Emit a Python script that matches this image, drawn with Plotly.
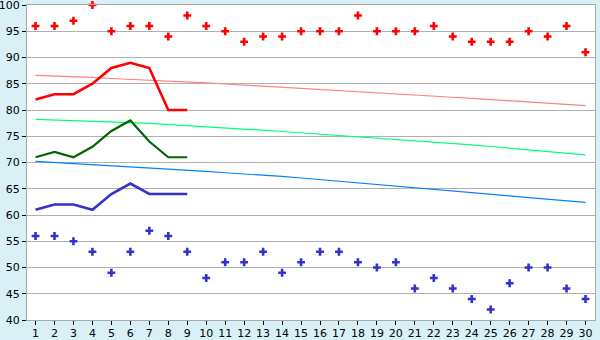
import plotly.graph_objects as go

days = list(range(1, 31))

high_pts = [96, 96, 97, 100, 95, 96, 96, 94, 98, 96, 95, 93, 94, 94, 95,
            95, 95, 98, 95, 95, 95, 96, 94, 93, 93, 93, 95, 94, 96, 91]
low_pts = [56, 56, 55, 53, 49, 53, 57, 56, 53, 48, 51, 51, 53, 49, 51,
           53, 53, 51, 50, 51, 46, 48, 46, 44, 42, 47, 50, 50, 46, 44]

days9 = days[:9]
red_line = [82, 83, 83, 85, 88, 89, 88, 80, 80]
green_line = [71, 72, 71, 73, 76, 78, 74, 71, 71]
blue_line = [61, 62, 62, 61, 64, 66, 64, 64, 64]

pink_trend = [86.6, 86.5, 86.35, 86.2, 86.0, 85.85, 85.65, 85.5, 85.3, 85.15,
              84.95, 84.75, 84.55, 84.35, 84.15, 83.95, 83.75, 83.55, 83.3, 83.1,
              82.88, 82.65, 82.43, 82.2, 81.98, 81.75, 81.53, 81.3, 81.08, 80.85]
green_trend = [78.2, 78.1, 77.95, 77.85, 77.75, 77.6, 77.45, 77.25, 77.05, 76.85,
               76.6, 76.35, 76.15, 75.9, 75.65, 75.4, 75.15, 74.9, 74.7, 74.45,
               74.2, 73.95, 73.65, 73.35, 73.05, 72.75, 72.45, 72.1, 71.8, 71.45]
blue_trend = [70.2, 70.0, 69.8, 69.6, 69.4, 69.15, 68.9, 68.7, 68.5, 68.3,
              68.05, 67.85, 67.6, 67.35, 67.05, 66.75, 66.45, 66.15, 65.85, 65.55,
              65.25, 64.95, 64.6, 64.3, 63.95, 63.65, 63.3, 63.0, 62.7, 62.4]

y_ticks = list(range(40, 101, 5))

fig = go.Figure()

fig.add_trace(go.Scatter(x=days, y=pink_trend, mode="lines",
                         line=dict(color="#ff8080", width=1.2)))
fig.add_trace(go.Scatter(x=days, y=green_trend, mode="lines",
                         line=dict(color="#00ff80", width=1.2)))
fig.add_trace(go.Scatter(x=days, y=blue_trend, mode="lines",
                         line=dict(color="#0080ff", width=1.2)))

fig.add_trace(go.Scatter(x=days9, y=red_line, mode="lines",
                         line=dict(color="#ff0000", width=2.6)))
fig.add_trace(go.Scatter(x=days9, y=green_line, mode="lines",
                         line=dict(color="#006600", width=2.2)))
fig.add_trace(go.Scatter(x=days9, y=blue_line, mode="lines",
                         line=dict(color="#3333cc", width=2.6)))

fig.add_trace(go.Scatter(x=days, y=high_pts, mode="markers", cliponaxis=False,
                         marker=dict(symbol="cross", size=6.5, color="#ff0000",
                                     line=dict(width=0))))
fig.add_trace(go.Scatter(x=days, y=low_pts, mode="markers", cliponaxis=False,
                         marker=dict(symbol="cross", size=6.5, color="#3333cc",
                                     line=dict(width=0))))

fig.update_layout(
    width=600, height=340,
    margin=dict(l=27, r=5, t=5, b=20, autoexpand=False),
    paper_bgcolor="#d9f0f7",
    plot_bgcolor="#ffffff",
    showlegend=False,
    hovermode=False,
    font=dict(family="DejaVu Sans", size=11, color="#000000"),
)
fig.update_xaxes(
    range=[0.55, 30.5], tickmode="array", tickvals=days,
    ticktext=[str(d) for d in days],
    showgrid=False, zeroline=False, automargin=False,
    showline=True, linecolor="#aaaaaa", linewidth=1, mirror=True,
    ticks="outside", ticklen=4, tickcolor="#000000", tickwidth=1,
    tickfont=dict(size=11), ticklabelstandoff=-1,
)
fig.update_yaxes(
    range=[40, 100], tickmode="array", tickvals=y_ticks,
    ticktext=[str(v) for v in y_ticks],
    showgrid=True, gridcolor="#b0b0b0", gridwidth=1, zeroline=False,
    automargin=False,
    showline=True, linecolor="#aaaaaa", linewidth=1, mirror=True,
    ticks="outside", ticklen=4, tickcolor="#000000", tickwidth=1,
    tickfont=dict(size=11), ticklabeloverflow="allow",
)

fig.write_html("out.html")
